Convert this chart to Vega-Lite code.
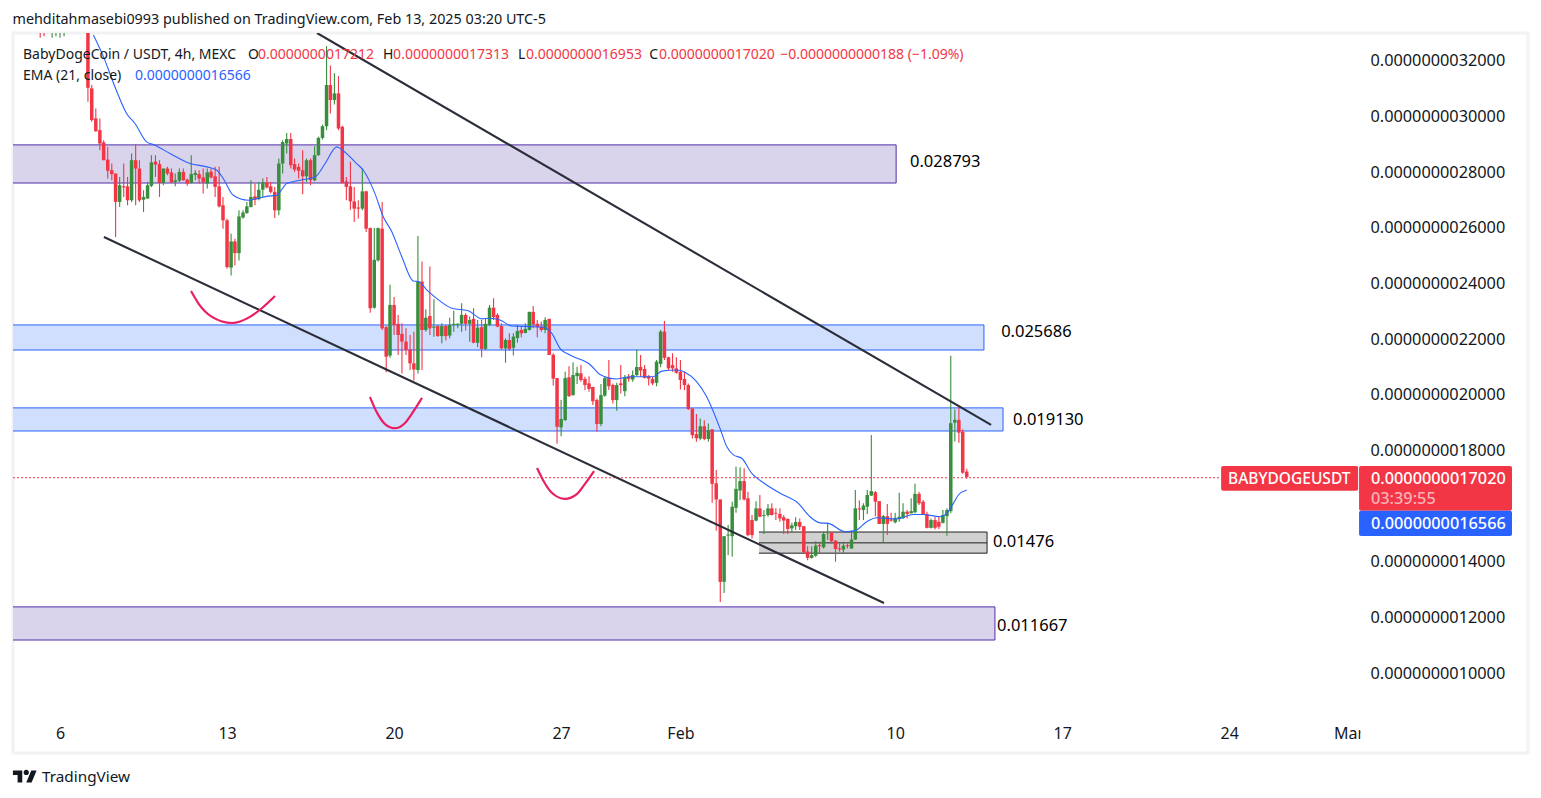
{"$schema":"https://vega.github.io/schema/vega-lite/v6.json","width":1515,"height":720,"autosize":{"type":"none"},"padding":{"left":13,"top":33,"right":13,"bottom":45},"background":"#ffffff","config":{"view":{"stroke":"#f2f2f4","strokeWidth":3},"font":"Noto Sans"},"title":{"text":"mehditahmasebi0993 published on TradingView.com, Feb 13, 2025 03:20 UTC-5","anchor":"start","offset":6,"fontSize":14.35,"fontWeight":"normal","font":"Noto Sans","color":"#131722"},
"resolve":{"scale":{"fill":"independent","color":"independent","stroke":"independent"}},
"datasets":{
"zones":[{"day":3.9,"day2":41.04,"price":28.95,"price2":27.58,"kind":"purple"},{"day":3.9,"day2":44.72,"price":22.48,"price2":21.58,"kind":"blue"},{"day":3.9,"day2":45.52,"price":19.5,"price2":18.67,"kind":"blue"},{"day":35.29,"day2":44.85,"price":15.04,"price2":14.28,"kind":"grey"},{"day":3.9,"day2":45.18,"price":12.35,"price2":11.16,"kind":"purple"}],
"midline":[{"day":35.29,"day2":44.85,"price":15.04},{"day":35.29,"day2":44.85,"price":14.65},{"day":35.29,"day2":44.85,"price":14.28}],
"greyedge":[{"day":44.85,"price":15.04,"price2":14.28}],
"last":[{"day":4.03,"day2":54.66,"price":16.99}],
"channel":[{"seg":"upper","day":16.77,"price":32.97},{"seg":"upper","day":45.02,"price":18.89},{"seg":"lower","day":7.84,"price":25.64},{"seg":"lower","day":40.53,"price":12.49}],
"arcs":[{"seg":"a","day":11.49,"price":23.7},{"seg":"a","day":11.82,"price":23.23},{"seg":"a","day":12.37,"price":22.77},{"seg":"a","day":13.21,"price":22.55},{"seg":"a","day":13.96,"price":22.77},{"seg":"a","day":14.47,"price":23.09},{"seg":"a","day":15.01,"price":23.52},{"seg":"b","day":18.99,"price":19.89},{"seg":"b","day":19.29,"price":19.32},{"seg":"b","day":19.62,"price":18.92},{"seg":"b","day":20.04,"price":18.77},{"seg":"b","day":20.46,"price":18.96},{"seg":"b","day":20.79,"price":19.35},{"seg":"b","day":21.17,"price":19.86},{"seg":"c","day":25.99,"price":17.34},{"seg":"c","day":26.24,"price":16.91},{"seg":"c","day":26.62,"price":16.44},{"seg":"c","day":27.16,"price":16.23},{"seg":"c","day":27.67,"price":16.41},{"seg":"c","day":28,"price":16.77},{"seg":"c","day":28.38,"price":17.23}],
"ema":[{"day":7.4,"price":32.9},{"day":7.82,"price":32.12},{"day":8.3,"price":31.04},{"day":8.79,"price":30.08},{"day":9.14,"price":29.72},{"day":9.63,"price":29.06},{"day":9.98,"price":28.94},{"day":10.61,"price":28.64},{"day":11.45,"price":28.28},{"day":12.15,"price":28.16},{"day":12.57,"price":28.04},{"day":12.84,"price":27.74},{"day":13.26,"price":27.14},{"day":13.89,"price":26.96},{"day":14.24,"price":27.02},{"day":14.66,"price":27.1},{"day":15.08,"price":27.14},{"day":15.5,"price":27.56},{"day":16.06,"price":27.68},{"day":16.69,"price":27.8},{"day":17.11,"price":28.28},{"day":17.6,"price":28.88},{"day":17.87,"price":28.74},{"day":18.43,"price":28.28},{"day":18.71,"price":28.04},{"day":19.2,"price":27.2},{"day":19.55,"price":26.36},{"day":19.9,"price":25.84},{"day":20.32,"price":24.94},{"day":20.81,"price":24.06},{"day":21.02,"price":24.04},{"day":21.37,"price":23.74},{"day":21.86,"price":23.38},{"day":22.42,"price":23.08},{"day":23.11,"price":22.99},{"day":23.67,"price":22.7},{"day":24.02,"price":22.72},{"day":24.44,"price":22.66},{"day":24.93,"price":22.44},{"day":25.7,"price":22.42},{"day":26.26,"price":22.4},{"day":26.61,"price":22.18},{"day":26.95,"price":21.64},{"day":27.37,"price":21.4},{"day":28.21,"price":21.06},{"day":28.63,"price":20.7},{"day":29.33,"price":20.54},{"day":29.89,"price":20.62},{"day":30.87,"price":20.62},{"day":31.22,"price":20.82},{"day":31.84,"price":20.86},{"day":32.19,"price":20.78},{"day":33.1,"price":19.9},{"day":33.66,"price":18.76},{"day":33.94,"price":18.11},{"day":34.22,"price":17.81},{"day":34.57,"price":17.69},{"day":34.99,"price":17.15},{"day":35.48,"price":16.81},{"day":36.18,"price":16.43},{"day":36.94,"price":16.07},{"day":37.43,"price":15.59},{"day":37.85,"price":15.37},{"day":38.2,"price":15.35},{"day":38.9,"price":15.05},{"day":39.32,"price":15.09},{"day":39.81,"price":15.41},{"day":40.23,"price":15.55},{"day":41.07,"price":15.51},{"day":41.76,"price":15.67},{"day":42.18,"price":15.67},{"day":42.88,"price":15.59},{"day":43.16,"price":15.71},{"day":43.44,"price":16.07},{"day":43.65,"price":16.37},{"day":44,"price":16.55}],
"tags":[{"day":54.66,"day2":60.4,"price":17.41,"price2":16.52,"kind":"red"},{"day":60.44,"day2":66.85,"price":17.41,"price2":15.8,"kind":"red"},{"day":60.44,"day2":66.85,"price":15.8,"price2":14.9,"kind":"blue"},{"day":60.5,"day2":60.92,"price":8.2,"price2":7.39,"kind":"mask"}],
"legendtext":[{"day":4.45,"price":32.19,"label":"BabyDogeCoin / USDT, 4h, MEXC","kind":"dark"},{"day":13.88,"price":32.19,"label":"O","kind":"dark"},{"day":14.3,"price":32.19,"label":"0.0000000017212","kind":"red"},{"day":19.54,"price":32.19,"label":"H","kind":"dark"},{"day":19.96,"price":32.19,"label":"0.0000000017313","kind":"red"},{"day":25.19,"price":32.19,"label":"L","kind":"dark"},{"day":25.53,"price":32.19,"label":"0.0000000016953","kind":"red"},{"day":30.69,"price":32.19,"label":"C","kind":"dark"},{"day":31.1,"price":32.19,"label":"0.0000000017020","kind":"red"},{"day":36.18,"price":32.19,"label":"−0.0000000000188 (−1.09%)","kind":"red"},{"day":4.45,"price":31.43,"label":"EMA (21, close)","kind":"dark"},{"day":9.14,"price":31.43,"label":"0.0000000016566","kind":"blue"}],
"zonelabels":[{"day":41.62,"price":28.34,"label":"0.028793"},{"day":45.44,"price":22.23,"label":"0.025686"},{"day":45.94,"price":19.07,"label":"0.019130"},{"day":45.1,"price":14.69,"label":"0.01476"},{"day":45.27,"price":11.67,"label":"0.011667"}],
"tagname":[{"day":54.95,"price":16.95,"label":"BABYDOGEUSDT"}],
"taglabels":[{"day":60.94,"price":16.95,"label":"0.0000000017020","kind":"white"},{"day":60.94,"price":16.23,"label":"03:39:55","kind":"pink"},{"day":60.94,"price":15.33,"label":"0.0000000016566","kind":"white"}],
"footer":[{"day":5.245,"price":6.24,"label":"TradingView"}],
"logo":[{"day":4.53,"price":6.26}],
"candles":[
{"day":5.17,"o":34.2,"h":34.5,"l":32.8,"c":33.6},{"day":5.33,"o":34.2,"h":34.5,"l":32.85,"c":33.6},{"day":5.67,"o":33.4,"h":34.5,"l":32.8,"c":33.9},{"day":5.83,"o":33.5,"h":34.5,"l":32.85,"c":33.9},{"day":6,"o":33.5,"h":34.5,"l":32.8,"c":33.9},{"day":6.17,"o":33.5,"h":34.5,"l":32.85,"c":33.9},
{"day":7.17,"o":34.6,"h":35,"l":30.5,"c":31},{"day":7.33,"o":30.98,"h":31.1,"l":29.78,"c":29.84},{"day":7.5,"o":29.9,"h":30.26,"l":29.42,"c":29.44},{"day":7.67,"o":29.48,"h":29.9,"l":28.76,"c":29},{"day":7.83,"o":29.04,"h":29.12,"l":28.4,"c":28.4},{"day":8,"o":28.42,"h":28.88,"l":27.74,"c":28.02},
{"day":8.17,"o":28.04,"h":28.28,"l":27.68,"c":27.9},{"day":8.33,"o":27.92,"h":27.92,"l":25.64,"c":26.9},{"day":8.5,"o":26.9,"h":27.8,"l":26.72,"c":27.5},{"day":8.67,"o":27.46,"h":28.28,"l":27.08,"c":27.42},{"day":8.83,"o":27.46,"h":27.8,"l":26.78,"c":26.96},{"day":9,"o":26.96,"h":28.64,"l":26.9,"c":28.4},
{"day":9.17,"o":28.4,"h":28.96,"l":26.78,"c":28.1},{"day":9.33,"o":28.1,"h":28.4,"l":26.9,"c":26.96},{"day":9.5,"o":26.98,"h":27.32,"l":26.54,"c":27.08},{"day":9.67,"o":27.02,"h":27.62,"l":27.02,"c":27.5},{"day":9.83,"o":27.48,"h":28.58,"l":27.44,"c":28.32},{"day":10,"o":28.35,"h":28.58,"l":27.8,"c":28.24},
{"day":10.17,"o":28.26,"h":28.4,"l":27.08,"c":27.58},{"day":10.33,"o":27.58,"h":28.1,"l":27.5,"c":28.1},{"day":10.5,"o":28.1,"h":28.16,"l":27.86,"c":27.92},{"day":10.67,"o":27.96,"h":28.1,"l":27.6,"c":27.6},{"day":10.83,"o":27.62,"h":27.92,"l":27.46,"c":27.68},{"day":11,"o":27.66,"h":28.1,"l":27.62,"c":27.98},
{"day":11.17,"o":27.98,"h":28.1,"l":27.66,"c":27.68},{"day":11.33,"o":27.7,"h":27.74,"l":27.48,"c":27.56},{"day":11.5,"o":27.58,"h":28.58,"l":27.56,"c":27.9},{"day":11.67,"o":27.87,"h":28.04,"l":27.68,"c":27.94},{"day":11.83,"o":27.9,"h":28.04,"l":27.56,"c":27.74},{"day":12,"o":27.78,"h":28.1,"l":27.2,"c":27.6},
{"day":12.17,"o":27.56,"h":28.1,"l":27.38,"c":27.96},{"day":12.33,"o":27.99,"h":28.1,"l":27.74,"c":27.78},{"day":12.5,"o":27.82,"h":28.16,"l":27.08,"c":27.44},{"day":12.67,"o":27.46,"h":28.16,"l":26.7,"c":26.74},{"day":12.83,"o":26.78,"h":27.08,"l":25.94,"c":26.24},{"day":13,"o":26.24,"h":26.3,"l":24.5,"c":24.56},
{"day":13.17,"o":24.54,"h":25.76,"l":24.26,"c":25.48},{"day":13.33,"o":25.48,"h":25.58,"l":24.62,"c":25.06},{"day":13.5,"o":25.06,"h":26.6,"l":24.8,"c":26.38},{"day":13.67,"o":26.34,"h":26.6,"l":26.3,"c":26.52},{"day":13.83,"o":26.5,"h":26.9,"l":26.48,"c":26.74},{"day":14,"o":26.72,"h":27.68,"l":26.7,"c":27.08},
{"day":14.17,"o":27.1,"h":27.56,"l":26.78,"c":26.98},{"day":14.33,"o":27,"h":27.62,"l":26.96,"c":27.34},{"day":14.5,"o":27.34,"h":27.74,"l":27.08,"c":27.6},{"day":14.67,"o":27.6,"h":27.8,"l":27.38,"c":27.42},{"day":14.83,"o":27.46,"h":27.62,"l":27.2,"c":27.26},{"day":15,"o":27.26,"h":27.44,"l":26.32,"c":26.6},
{"day":15.17,"o":26.6,"h":28.46,"l":26.42,"c":28.28},{"day":15.33,"o":28.28,"h":29.12,"l":27.92,"c":29.05},{"day":15.5,"o":29,"h":29.38,"l":28.64,"c":29.16},{"day":15.67,"o":29.16,"h":29.38,"l":28.1,"c":28.22},{"day":15.83,"o":28.26,"h":28.46,"l":27.98,"c":28.06},{"day":16,"o":28.16,"h":28.28,"l":27.74,"c":28.02},
{"day":16.17,"o":28.04,"h":28.76,"l":27.18,"c":27.82},{"day":16.33,"o":27.82,"h":28.46,"l":27.62,"c":28.4},{"day":16.5,"o":28.4,"h":28.46,"l":27.5,"c":27.68},{"day":16.67,"o":27.68,"h":28.9,"l":27.64,"c":28.58},{"day":16.83,"o":28.58,"h":29.24,"l":28.56,"c":29.2},{"day":17,"o":29.2,"h":29.68,"l":29.14,"c":29.62},
{"day":17.17,"o":29.62,"h":32.5,"l":29.48,"c":31.1},{"day":17.33,"o":31.1,"h":31.8,"l":30.08,"c":30.56},{"day":17.5,"o":30.56,"h":31.52,"l":30.4,"c":30.8},{"day":17.67,"o":30.8,"h":31.42,"l":29.48,"c":29.54},{"day":17.83,"o":29.6,"h":29.64,"l":27.56,"c":27.58},{"day":18,"o":27.64,"h":27.8,"l":26.96,"c":27.44},
{"day":18.17,"o":27.46,"h":28.34,"l":26.62,"c":26.92},{"day":18.33,"o":26.92,"h":27.44,"l":26.18,"c":26.66},{"day":18.5,"o":26.7,"h":26.96,"l":26.3,"c":26.66},{"day":18.67,"o":26.66,"h":28.1,"l":26.6,"c":27.28},{"day":18.83,"o":27.28,"h":27.3,"l":25.82,"c":25.94},{"day":19,"o":25.96,"h":25.98,"l":22.92,"c":23.08},
{"day":19.17,"o":23.1,"h":25.96,"l":23.06,"c":24.82},{"day":19.33,"o":24.8,"h":25.98,"l":24.76,"c":25.96},{"day":19.5,"o":25.94,"h":26.9,"l":22.3,"c":22.36},{"day":19.67,"o":22.4,"h":22.44,"l":20.78,"c":21.34},{"day":19.83,"o":21.38,"h":23.92,"l":21.3,"c":23.2},{"day":20,"o":23.2,"h":23.48,"l":22.12,"c":22.48},
{"day":20.17,"o":22.52,"h":22.84,"l":21.4,"c":22.12},{"day":20.33,"o":22.16,"h":22.54,"l":20.74,"c":21.88},{"day":20.5,"o":21.88,"h":22.36,"l":21.4,"c":21.58},{"day":20.67,"o":21.6,"h":22.12,"l":20.86,"c":21.1},{"day":20.83,"o":21.1,"h":22.24,"l":20.48,"c":20.88},{"day":21,"o":20.86,"h":25.68,"l":20.74,"c":24.04},
{"day":21.17,"o":24.04,"h":24.76,"l":20.86,"c":22.3},{"day":21.33,"o":22.3,"h":23.04,"l":22.24,"c":22.74},{"day":21.5,"o":22.8,"h":24.58,"l":22.12,"c":22.36},{"day":21.67,"o":22.38,"h":23.4,"l":22.06,"c":22.42},{"day":21.83,"o":22.44,"h":22.48,"l":22.06,"c":22.08},{"day":22,"o":22.08,"h":22.54,"l":21.82,"c":22.44},
{"day":22.17,"o":22.44,"h":22.48,"l":21.92,"c":22.08},{"day":22.33,"o":22.1,"h":22.74,"l":22,"c":22.48},{"day":22.5,"o":22.48,"h":22.99,"l":22.24,"c":22.52},{"day":22.67,"o":22.48,"h":22.54,"l":22.36,"c":22.52},{"day":22.83,"o":22.52,"h":23.26,"l":22.24,"c":22.84},{"day":23,"o":22.84,"h":22.9,"l":22.28,"c":22.52},
{"day":23.17,"o":22.52,"h":22.78,"l":21.88,"c":22.66},{"day":23.33,"o":22.7,"h":23.08,"l":21.82,"c":21.84},{"day":23.5,"o":21.84,"h":22.66,"l":21.68,"c":22.38},{"day":23.67,"o":22.4,"h":22.66,"l":21.32,"c":21.62},{"day":23.83,"o":21.62,"h":22.72,"l":21.58,"c":22.52},{"day":24,"o":22.48,"h":23.2,"l":22.44,"c":23.1},
{"day":24.17,"o":23.1,"h":23.44,"l":22.66,"c":22.76},{"day":24.33,"o":22.84,"h":22.9,"l":22.4,"c":22.42},{"day":24.5,"o":22.44,"h":22.54,"l":21.6,"c":21.64},{"day":24.67,"o":21.64,"h":22,"l":21.12,"c":21.94},{"day":24.83,"o":21.94,"h":22.18,"l":21.56,"c":21.62},{"day":25,"o":21.66,"h":22.18,"l":21.38,"c":22.06},
{"day":25.17,"o":22.01,"h":22.48,"l":21.84,"c":22.26},{"day":25.33,"o":22.3,"h":22.42,"l":22.04,"c":22.18},{"day":25.5,"o":22.19,"h":22.54,"l":22.18,"c":22.34},{"day":25.67,"o":22.3,"h":22.95,"l":22.28,"c":22.95},{"day":25.83,"o":22.95,"h":23.16,"l":22.36,"c":22.5},{"day":26,"o":22.52,"h":22.66,"l":22.04,"c":22.4},
{"day":26.17,"o":22.42,"h":22.6,"l":22.24,"c":22.3},{"day":26.33,"o":22.3,"h":22.76,"l":22.18,"c":22.66},{"day":26.5,"o":22.7,"h":22.7,"l":21.4,"c":21.4},{"day":26.67,"o":21.41,"h":21.46,"l":20.3,"c":20.55},{"day":26.83,"o":20.57,"h":20.57,"l":18.21,"c":18.82},{"day":27,"o":18.8,"h":19.78,"l":18.48,"c":19.1},
{"day":27.17,"o":19.06,"h":20.8,"l":19.04,"c":20.57},{"day":27.33,"o":20.6,"h":21,"l":19.9,"c":19.92},{"day":27.5,"o":19.96,"h":21.14,"l":19.94,"c":20.68},{"day":27.67,"o":20.64,"h":20.98,"l":20.36,"c":20.76},{"day":27.83,"o":20.74,"h":21.04,"l":20.44,"c":20.5},{"day":28,"o":20.54,"h":20.62,"l":20.14,"c":20.32},
{"day":28.17,"o":20.38,"h":20.64,"l":20.08,"c":20.18},{"day":28.33,"o":20.25,"h":20.26,"l":19.6,"c":19.74},{"day":28.5,"o":19.78,"h":19.84,"l":18.64,"c":18.92},{"day":28.67,"o":18.92,"h":20.36,"l":18.84,"c":19.96},{"day":28.83,"o":19.94,"h":20.62,"l":19.9,"c":20.57},{"day":29,"o":20.57,"h":21.22,"l":20.14,"c":20.28},
{"day":29.17,"o":20.32,"h":20.38,"l":19.66,"c":19.78},{"day":29.33,"o":19.78,"h":20.4,"l":19.4,"c":20.32},{"day":29.5,"o":20.38,"h":21.04,"l":20.02,"c":20.32},{"day":29.67,"o":20.1,"h":20.68,"l":19.92,"c":20.6},{"day":29.83,"o":20.62,"h":20.72,"l":20.44,"c":20.54},{"day":30,"o":20.52,"h":20.84,"l":20.44,"c":20.68},
{"day":30.17,"o":20.68,"h":21.6,"l":20.64,"c":20.97},{"day":30.33,"o":20.97,"h":21.4,"l":20.62,"c":20.84},{"day":30.5,"o":20.9,"h":21.04,"l":20.56,"c":20.58},{"day":30.67,"o":20.64,"h":20.68,"l":20.3,"c":20.55},{"day":30.83,"o":20.54,"h":20.62,"l":20.32,"c":20.38},{"day":31,"o":20.4,"h":21.22,"l":20.28,"c":21.16},
{"day":31.17,"o":21.08,"h":22.3,"l":20.96,"c":22.24},{"day":31.33,"o":22.24,"h":22.62,"l":21.22,"c":21.3},{"day":31.5,"o":21.32,"h":21.34,"l":20.86,"c":20.92},{"day":31.67,"o":21.04,"h":21.46,"l":20.8,"c":20.92},{"day":31.83,"o":20.92,"h":21.32,"l":20.74,"c":20.76},{"day":32,"o":20.8,"h":21.22,"l":20.16,"c":20.5},
{"day":32.17,"o":20.54,"h":20.8,"l":20.14,"c":20.32},{"day":32.33,"o":20.32,"h":20.38,"l":19.42,"c":19.46},{"day":32.5,"o":19.48,"h":19.48,"l":18.4,"c":18.52},{"day":32.67,"o":18.56,"h":19.28,"l":18.28,"c":18.41},{"day":32.83,"o":18.4,"h":19.12,"l":18.34,"c":18.84},{"day":33,"o":18.84,"h":19.06,"l":18.34,"c":18.38},
{"day":33.17,"o":18.38,"h":18.94,"l":18.28,"c":18.7},{"day":33.33,"o":18.73,"h":18.73,"l":16.09,"c":16.77},{"day":33.5,"o":16.79,"h":17.27,"l":15.09,"c":16.21},{"day":33.67,"o":16.21,"h":16.21,"l":12.53,"c":13.25},{"day":33.83,"o":13.25,"h":14.89,"l":12.85,"c":14.89},{"day":34,"o":14.91,"h":15.29,"l":14.21,"c":14.95},
{"day":34.17,"o":14.89,"h":16.13,"l":14.15,"c":15.95},{"day":34.33,"o":15.91,"h":17.39,"l":15.73,"c":16.59},{"day":34.5,"o":16.53,"h":17.37,"l":16.19,"c":16.87},{"day":34.67,"o":16.87,"h":17.33,"l":16.17,"c":16.21},{"day":34.83,"o":16.25,"h":16.49,"l":14.89,"c":14.93},{"day":35,"o":15.47,"h":15.65,"l":14.81,"c":14.93},
{"day":35.17,"o":15.45,"h":16.15,"l":15.43,"c":15.89},{"day":35.33,"o":15.89,"h":16.37,"l":15.57,"c":15.59},{"day":35.5,"o":15.62,"h":15.83,"l":14.97,"c":15.65},{"day":35.67,"o":15.65,"h":16.05,"l":15.59,"c":15.89},{"day":35.83,"o":15.89,"h":16.07,"l":15.63,"c":15.65},{"day":36,"o":15.73,"h":15.89,"l":15.47,"c":15.7},
{"day":36.17,"o":15.69,"h":15.89,"l":15.41,"c":15.53},{"day":36.33,"o":15.57,"h":15.65,"l":14.97,"c":15.45},{"day":36.5,"o":15.51,"h":15.53,"l":14.97,"c":15.15},{"day":36.67,"o":15.17,"h":15.37,"l":15.03,"c":15.28},{"day":36.83,"o":15.25,"h":15.57,"l":15.11,"c":15.4},{"day":37,"o":15.4,"h":15.53,"l":15.11,"c":15.23},
{"day":37.17,"o":15.25,"h":15.25,"l":14.27,"c":14.31},{"day":37.33,"o":14.34,"h":14.53,"l":14.03,"c":14.11},{"day":37.5,"o":14.11,"h":14.53,"l":14.09,"c":14.21},{"day":37.67,"o":14.19,"h":14.71,"l":14.15,"c":14.55},{"day":37.83,"o":14.57,"h":14.69,"l":14.27,"c":14.53},{"day":38,"o":14.49,"h":15.05,"l":14.45,"c":14.97},
{"day":38.17,"o":15,"h":15.37,"l":14.75,"c":15.04},{"day":38.33,"o":15.03,"h":15.03,"l":14.63,"c":14.71},{"day":38.5,"o":14.73,"h":14.75,"l":13.97,"c":14.43},{"day":38.67,"o":14.45,"h":14.63,"l":14.33,"c":14.41},{"day":38.83,"o":14.41,"h":14.69,"l":14.27,"c":14.55},{"day":39,"o":14.57,"h":14.63,"l":14.45,"c":14.53},
{"day":39.17,"o":14.45,"h":15.09,"l":14.43,"c":14.77},{"day":39.33,"o":14.77,"h":16.55,"l":14.75,"c":15.89},{"day":39.5,"o":15.89,"h":16.17,"l":15.47,"c":15.85},{"day":39.67,"o":15.83,"h":16.07,"l":15.47,"c":15.99},{"day":39.83,"o":15.95,"h":16.55,"l":15.69,"c":16.37},{"day":40,"o":16.35,"h":18.53,"l":16.33,"c":16.51},
{"day":40.17,"o":16.47,"h":16.51,"l":15.61,"c":16.13},{"day":40.33,"o":16.15,"h":16.15,"l":15.33,"c":15.33},{"day":40.5,"o":15.33,"h":15.65,"l":14.67,"c":15.61},{"day":40.67,"o":15.61,"h":16.05,"l":14.93,"c":15.33},{"day":40.83,"o":15.49,"h":15.73,"l":15.41,"c":15.45},{"day":41,"o":15.39,"h":15.73,"l":15.35,"c":15.55},
{"day":41.17,"o":15.51,"h":16.45,"l":15.41,"c":15.59},{"day":41.33,"o":15.55,"h":16.07,"l":15.51,"c":15.77},{"day":41.5,"o":15.77,"h":15.83,"l":15.53,"c":15.69},{"day":41.67,"o":15.71,"h":16.25,"l":15.71,"c":15.79},{"day":41.83,"o":15.75,"h":16.77,"l":15.71,"c":16.41},{"day":42,"o":16.41,"h":16.49,"l":16.01,"c":16.07},
{"day":42.17,"o":16.13,"h":16.19,"l":15.65,"c":15.67},{"day":42.33,"o":15.69,"h":15.77,"l":15.17,"c":15.19},{"day":42.5,"o":15.19,"h":15.53,"l":15.17,"c":15.47},{"day":42.67,"o":15.47,"h":15.59,"l":15.13,"c":15.19},{"day":42.83,"o":15.41,"h":15.59,"l":15.15,"c":15.23},{"day":43,"o":15.37,"h":15.83,"l":15.35,"c":15.65},
{"day":43.17,"o":15.61,"h":15.89,"l":14.91,"c":15.83},{"day":43.33,"o":15.79,"h":21.37,"l":15.71,"c":18.95},{"day":43.5,"o":18.97,"h":19.45,"l":18.29,"c":19.07},{"day":43.67,"o":19.07,"h":19.55,"l":18.25,"c":18.61},{"day":43.83,"o":18.64,"h":18.73,"l":17.13,"c":17.17},{"day":44,"o":17.21,"h":17.31,"l":16.95,"c":17.02}
]},
"encoding":{
"x":{"field":"day","type":"quantitative","scale":{"domain":[4.03,67.52],"nice":false,"zero":false,"padding":0},"axis":{"title":null,"grid":false,"ticks":false,"domain":false,"values":[6,13,20,27,32,41,48,55,60],"labelExpr":"datum.value==60?'Mar':datum.value==32?'Feb':datum.value>32?datum.value-31:datum.value","labelPadding":-20,"labelBaseline":"middle","labelFontSize":16,"labelColor":"#131722","labelFont":"Noto Sans","labelFlush":false,"labelOverlap":false,"labelBound":false}},
"y":{"field":"price","type":"quantitative","scale":{"domain":[7.1,32.97],"nice":false,"zero":false},"axis":{"title":null,"orient":"right","grid":false,"ticks":false,"domain":false,"values":[10,12,14,18,20,22,24,26,28,30,32],"labelExpr":"format(datum.value*1e-10,'.13f')","labelPadding":-158,"labelOffset":1,"labelAlign":"left","labelBaseline":"middle","labelFontSize":16.3,"labelColor":"#131722","labelFont":"Noto Sans","labelFlush":false,"labelOverlap":false,"labelBound":false}}
},
"layer":[
{"data":{"name":"last"},"mark":{"type":"rule","color":"#f23645","strokeWidth":1,"strokeDash":[2,2]},"encoding":{"x2":{"field":"day2"}}},
{"data":{"name":"zones"},"mark":{"type":"rect","clip":true,"strokeWidth":1},"encoding":{"x2":{"field":"day2"},"y2":{"field":"price2"},"fill":{"field":"kind","type":"nominal","legend":null,"scale":{"domain":["purple","blue","grey"],"range":["#d9d3ec","#d0dffd","#d1d1d1"]}},"stroke":{"field":"kind","type":"nominal","legend":null,"scale":{"domain":["purple","blue","grey"],"range":["#512da8","#2962ff","transparent"]}}}},
{"data":{"name":"midline"},"mark":{"type":"rule","color":"#222222","strokeWidth":1},"encoding":{"x2":{"field":"day2"}}},
{"data":{"name":"greyedge"},"mark":{"type":"rule","color":"#222222","strokeWidth":1},"encoding":{"y2":{"field":"price2"}}},
{"data":{"name":"candles"},"mark":{"type":"rule","clip":true,"strokeWidth":1.1},"encoding":{"y":{"field":"h","type":"quantitative","axis":{"title":null,"orient":"right","grid":false,"ticks":false,"domain":false,"values":[10,12,14,18,20,22,24,26,28,30,32],"labelExpr":"format(datum.value*1e-10,'.13f')","labelPadding":-158,"labelOffset":1,"labelAlign":"left","labelBaseline":"middle","labelFontSize":16.3,"labelColor":"#131722","labelFont":"Noto Sans","labelFlush":false,"labelOverlap":false,"labelBound":false},"scale":{"domain":[7.1,32.97],"nice":false,"zero":false}},"y2":{"field":"l"},"color":{"condition":{"test":"datum.c>=datum.o","value":"#388e3c"},"value":"#f23645"}}},
{"data":{"name":"candles"},"mark":{"type":"bar","size":3.5,"clip":true,"orient":"vertical"},"encoding":{"y":{"field":"o","type":"quantitative","axis":{"title":null,"orient":"right","grid":false,"ticks":false,"domain":false,"values":[10,12,14,18,20,22,24,26,28,30,32],"labelExpr":"format(datum.value*1e-10,'.13f')","labelPadding":-158,"labelOffset":1,"labelAlign":"left","labelBaseline":"middle","labelFontSize":16.3,"labelColor":"#131722","labelFont":"Noto Sans","labelFlush":false,"labelOverlap":false,"labelBound":false},"scale":{"domain":[7.1,32.97],"nice":false,"zero":false}},"y2":{"field":"c"},"color":{"condition":{"test":"datum.c>=datum.o","value":"#388e3c"},"value":"#f23645"}}},
{"data":{"name":"ema"},"mark":{"type":"line","clip":true,"color":"#2962ff","strokeWidth":1.1,"interpolate":"monotone"}},
{"data":{"name":"channel"},"mark":{"type":"line","clip":true,"color":"#2a2e39","strokeWidth":2.1},"encoding":{"detail":{"field":"seg"}}},
{"data":{"name":"arcs"},"mark":{"type":"line","clip":true,"color":"#e91e63","strokeWidth":2.2,"interpolate":"monotone"},"encoding":{"detail":{"field":"seg"}}},
{"data":{"name":"tags"},"mark":{"type":"rect","cornerRadius":2},"encoding":{"x2":{"field":"day2"},"y2":{"field":"price2"},"fill":{"field":"kind","type":"nominal","legend":null,"scale":{"domain":["red","blue","mask"],"range":["#f23645","#2962ff","#ffffff"]}}}},
{"data":{"name":"legendtext"},"mark":{"type":"text","align":"left","baseline":"middle","fontSize":14,"font":"Noto Sans"},"encoding":{"text":{"field":"label"},"color":{"field":"kind","type":"nominal","legend":null,"scale":{"domain":["dark","red","blue"],"range":["#131722","#f23645","#2962ff"]}}}},
{"data":{"name":"zonelabels"},"mark":{"type":"text","align":"left","baseline":"middle","fontSize":16.5,"font":"Noto Sans","color":"#000000"},"encoding":{"text":{"field":"label"}}},
{"data":{"name":"tagname"},"mark":{"type":"text","align":"left","baseline":"middle","fontSize":15.5,"font":"Noto Sans","fontWeight":500,"color":"#ffffff"},"encoding":{"text":{"field":"label"}}},
{"data":{"name":"taglabels"},"mark":{"type":"text","align":"left","baseline":"middle","fontSize":16.3,"font":"Noto Sans","fontWeight":500},"encoding":{"text":{"field":"label"},"color":{"field":"kind","type":"nominal","legend":null,"scale":{"domain":["white","pink"],"range":["#ffffff","#f9b2b9"]}}}},
{"data":{"name":"footer"},"mark":{"type":"text","align":"left","baseline":"middle","fontSize":15.3,"font":"Noto Sans","color":"#131722"},"encoding":{"text":{"field":"label"}}},
{"data":{"name":"logo"},"mark":{"type":"point","filled":true,"opacity":1,"size":576,"color":"#131722","shape":"M-0.222 0.5H-0.611V-0.111H-1V-0.5H-0.222ZM0.556 0.5H0.111L0.528 -0.5H0.972ZM-0.111 -0.333a0.222 0.222 0 1 0 0.444 0a0.222 0.222 0 1 0 -0.444 0Z"}}
]}
